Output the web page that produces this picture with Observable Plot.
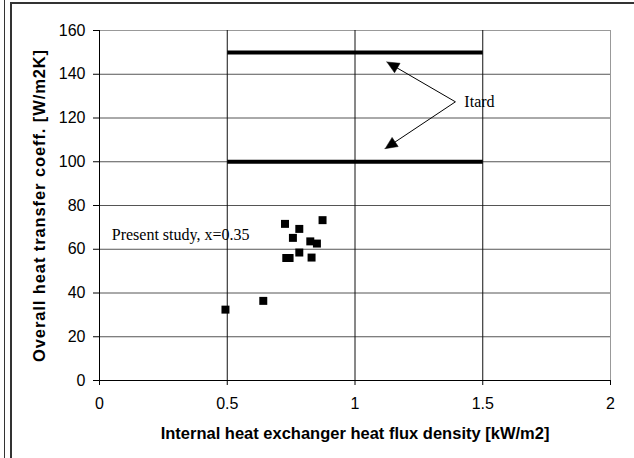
<!DOCTYPE html>
<html>
<head>
<meta charset="utf-8">
<script src="https://cdn.jsdelivr.net/npm/d3@7"></script>
<script src="https://cdn.jsdelivr.net/npm/@observablehq/plot@0.6"></script>
<style>
  html, body { margin: 0; padding: 0; background: #fff; }
  #wrap { position: relative; width: 634px; height: 458px; overflow: hidden; }
  .fr { position: absolute; background: #333; }
  #chart { position: absolute; left: 0; top: 0; }
</style>
</head>
<body>
<div id="wrap">
  <div class="fr" style="left:4px;top:0;width:1px;height:458px;"></div>
  <div class="fr" style="left:10px;top:2px;width:2px;height:456px;"></div>
  <div class="fr" style="left:10px;top:2px;width:624px;height:2px;"></div>
  <div id="chart"></div>
</div>
<script>
// ---- data ----
const fluxDensity = [0.493, 0.641, 0.726, 0.731, 0.744, 0.757, 0.782, 0.782, 0.825, 0.830, 0.851, 0.873];
const heatCoeff   = [32.4, 36.4, 71.6, 56.0, 56.0, 65.2, 69.3, 58.5, 63.6, 56.2, 62.6, 73.3];
const itardLevels = [150, 100];
const itardRange  = [0.5, 1.5];
const xTicks = [0, 0.5, 1, 1.5, 2];
const yTicks = [0, 20, 40, 60, 80, 100, 120, 140, 160];
const arrowFrom = [1.393, 127.4];
const arrowTips = [[1.125, 145.6], [1.118, 106.0]];
const labelPresent = {text: "Present study, x=0.35", x: 0.048, y: 66.7};
const labelItard = {text: "Itard", x: 1.428, y: 127.3};
const xTitle = "Internal heat exchanger heat flux density [kW/m2]";
const yTitle = "Overall heat transfer coeff. [W/m2K]";

const points = fluxDensity.map((x, i) => ({x, y: heatCoeff[i]}));
const itard = itardLevels.map(y => ({x1: itardRange[0], x2: itardRange[1], y}));

// ---- layout ----
const W = 634, H = 458, mL = 99, mR = 24, mT = 30, mB = 78;
const kx = (W - mL - mR) / (xTicks[xTicks.length - 1] - xTicks[0]);
const ky = (H - mT - mB) / (yTicks[yTicks.length - 1] - yTicks[0]);
const headLen = 12, headWidth = 11;

// arrow shafts and filled heads derived from the arrow data
const arrows = [], heads = [];
arrowTips.forEach(([tx, ty], i) => {
  const vx = (tx - arrowFrom[0]) * kx, vy = -(ty - arrowFrom[1]) * ky;
  const len = Math.hypot(vx, vy);
  const ux = vx / len, uy = vy / len;
  const bx = -ux * headLen, by = -uy * headLen;       // tip -> base centre (px)
  const nx = -uy * headWidth / 2, ny = ux * headWidth / 2;
  const toData = (px, py) => ({x: tx + px / kx, y: ty - py / ky, id: i});
  arrows.push({x1: arrowFrom[0], y1: arrowFrom[1], x2: tx + (bx * 0.5) / kx, y2: ty - (by * 0.5) / ky});
  heads.push(toData(0, 0), toData(bx + nx, by + ny), toData(bx - nx, by - ny), toData(0, 0));
});

const hGrid = yTicks.filter(v => v > 0 && v < 160);
const vGrid = xTicks.filter(v => v > 0 && v < 2);
const serif = "'Liberation Serif', 'Times New Roman', serif";

const chart = Plot.plot({
  width: W, height: H,
  marginLeft: mL, marginRight: mR, marginTop: mT, marginBottom: mB,
  style: {fontFamily: "'Liberation Sans', Arial, sans-serif", fontSize: "16px", color: "black", background: "transparent"},
  x: {domain: [0, 2], ticks: xTicks, tickSize: 5, tickPadding: 12, label: null, tickFormat: d => `${d}`},
  y: {domain: [0, 160], ticks: yTicks, tickSize: 6, tickPadding: 8, label: null, tickFormat: d => `${d}`},
  marks: [
    Plot.ruleY(hGrid, {stroke: "#555", strokeWidth: 1}),
    Plot.ruleY([160], {stroke: "#999", strokeWidth: 1}),
    Plot.ruleX(vGrid, {stroke: "#111", strokeWidth: 1}),
    Plot.ruleX([2], {stroke: "#999", strokeWidth: 1}),
    Plot.ruleY([0], {stroke: "black"}),
    Plot.ruleX([0], {stroke: "black"}),
    Plot.link(itard, {x1: "x1", x2: "x2", y1: "y", y2: "y", stroke: "black", strokeWidth: 4}),
    Plot.link(arrows, {x1: "x1", y1: "y1", x2: "x2", y2: "y2", stroke: "black", strokeWidth: 1}),
    Plot.line(heads, {x: "x", y: "y", z: "id", fill: "black", stroke: "black", strokeWidth: 0.5, curve: "linear-closed"}),
    Plot.dot(points, {x: "x", y: "y", symbol: "square", r: 4.5, fill: "black", stroke: "none"}),
    Plot.text([labelPresent], {x: "x", y: "y", text: "text", textAnchor: "start",
      fontFamily: serif, fontSize: 16, fill: "black"}),
    Plot.text([labelItard], {x: "x", y: "y", text: "text", textAnchor: "start",
      fontFamily: serif, fontSize: 16, fill: "black"}),
    Plot.text([xTitle], {frameAnchor: "bottom", textAnchor: "middle", dy: 58,
      fontWeight: "bold", fontSize: 16.5, fill: "black"}),
    Plot.text([yTitle], {frameAnchor: "left", textAnchor: "middle", rotate: -90, dx: -60,
      fontWeight: "bold", fontSize: 16.5, fill: "black"})
  ]
});
document.getElementById("chart").appendChild(chart);
d3.select(chart).selectAll("text").filter(function() { return this.textContent === yTitle; })
  .attr("letter-spacing", "0.9px");
</script>
</body>
</html>
